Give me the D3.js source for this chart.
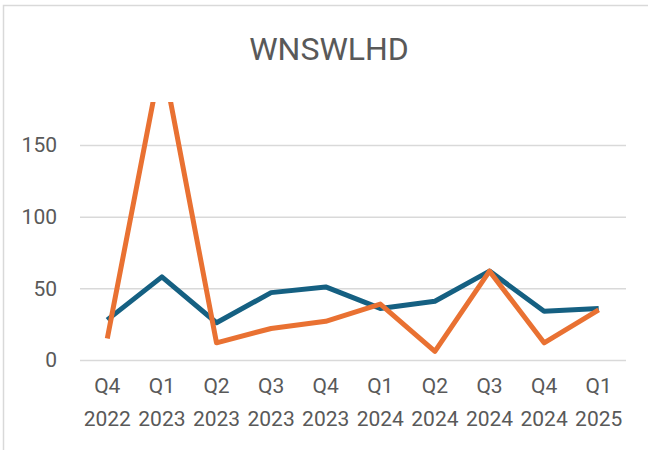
<!DOCTYPE html>
<html>
<head>
<meta charset="utf-8">
<script src="https://cdn.jsdelivr.net/npm/d3@7"></script>
<style>
  body { margin: 0; background: #fff; }
  svg { display: block; font-family: Roboto, "Liberation Sans", sans-serif; }
</style>
</head>
<body>
<svg id="chart" width="648" height="450"></svg>
<script>
// Quarters on the x axis, two text lines each
var quarters = ["Q4", "Q1", "Q2", "Q3", "Q4", "Q1", "Q2", "Q3", "Q4", "Q1"];
var years    = ["2022", "2023", "2023", "2023", "2023", "2024", "2024", "2024", "2024", "2025"];

// series values (orange peak runs off the top)
var blueSeries   = [28, 58, 26, 47, 51, 36, 41, 62, 34, 36];
var orangeSeries = [15, 212, 12, 22, 27, 39, 6, 62, 12, 35];

var yTicks = [0, 50, 100, 150];
var yMax = 180;

var svg = d3.select("#chart");

// chart area border (Excel style)
svg.append("rect")
  .attr("x", 3.5).attr("y", 5.5)
  .attr("width", 700).attr("height", 500)
  .attr("fill", "none")
  .attr("stroke", "#d9d9d9")
  .attr("stroke-width", 1.5);

svg.append("text")
  .attr("x", 329).attr("y", 60)
  .attr("text-anchor", "middle")
  .attr("font-size", "32px")
  .attr("fill", "#595959")
  .text("WNSWLHD");

var plotL = 80, plotR = 626, plotT = 102, plotB = 360;

var ids = d3.range(quarters.length);
var x = d3.scaleBand().domain(ids).range([plotL, plotR]);
var y = d3.scaleLinear().domain([0, yMax]).range([plotB, plotT]);

// gridlines + y labels
var yAxis = svg.append("g")
  .attr("transform", "translate(" + plotL + ",0)")
  .call(d3.axisLeft(y).tickValues(yTicks).tickSize(-(plotR - plotL)).tickPadding(23));
yAxis.select(".domain").remove();
yAxis.attr("font-family", null);
yAxis.selectAll(".tick line").attr("stroke", "#d9d9d9").attr("stroke-width", 1.5);
yAxis.selectAll(".tick text")
  .attr("fill", "#595959")
  .attr("font-size", "21px");

// x labels, two lines
var xAxis = svg.append("g")
  .attr("transform", "translate(0," + plotB + ")")
  .call(d3.axisBottom(x).tickSize(0).tickFormat(""));
xAxis.select(".domain").remove();
xAxis.attr("font-family", null);
xAxis.selectAll(".tick").each(function (d) {
  var t = d3.select(this).append("text")
    .attr("fill", "#595959")
    .attr("font-size", "21px")
    .attr("text-anchor", "middle");
  t.append("tspan").attr("x", 0).attr("y", 33).text(quarters[d]);
  t.append("tspan").attr("x", 0).attr("y", 66).text(years[d]);
});

svg.append("clipPath").attr("id", "plot-clip")
  .append("rect")
  .attr("x", 0).attr("y", plotT)
  .attr("width", 648).attr("height", 450 - plotT);

var line = d3.line()
  .x(function (d, i) { return x(i) + x.bandwidth() / 2; })
  .y(function (d) { return y(d); });

var plot = svg.append("g").attr("clip-path", "url(#plot-clip)");

plot.append("path")
  .datum(blueSeries)
  .attr("d", line)
  .attr("fill", "none")
  .attr("stroke", "#156082")
  .attr("stroke-width", 5)
  .attr("stroke-linejoin", "round");

plot.append("path")
  .datum(orangeSeries)
  .attr("d", line)
  .attr("fill", "none")
  .attr("stroke", "#e97132")
  .attr("stroke-width", 5)
  .attr("stroke-linejoin", "round");
</script>
</body>
</html>
